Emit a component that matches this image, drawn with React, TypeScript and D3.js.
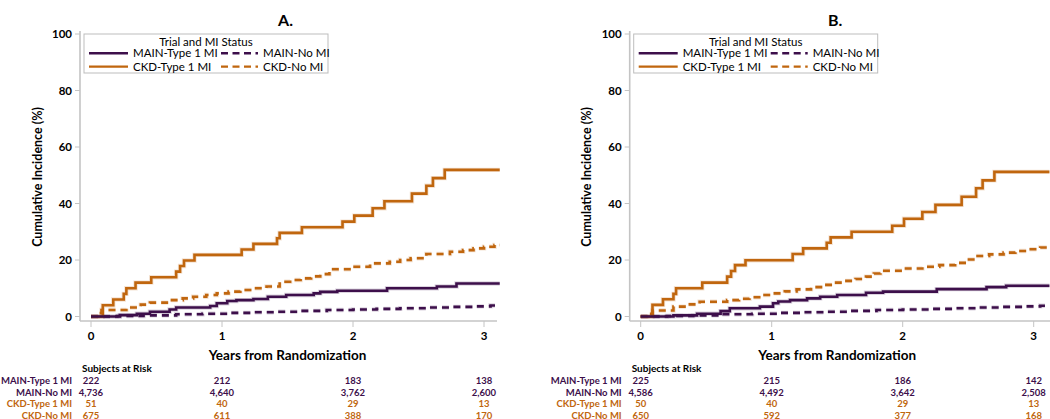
import React from "react";
import * as d3 from "d3";

// ---------- Data ----------
const seriesNames = ["MAIN-Type 1 MI", "MAIN-No MI", "CKD-Type 1 MI", "CKD-No MI"];
const riskTimes = [0, 1, 2, 3];
const yTicks = [0, 20, 40, 60, 80, 100];
const xTicks = [0, 1, 2, 3];

// Panel A curves: [years, cumulative incidence %]
const A_mainT1: [number, number][] = [
  [0, 0], [0.22, 0.5], [0.35, 1.0], [0.45, 1.7], [0.6, 2.5], [0.65, 3.2], [0.91, 3.7], [0.96, 4.7],
  [1.04, 5.5], [1.11, 5.8], [1.24, 6.2], [1.35, 7.0], [1.49, 7.6], [1.7, 8.2], [1.75, 8.7],
  [1.88, 9.1], [2.26, 10.0], [2.64, 10.6], [2.79, 11.7], [3.12, 11.7],
];
const A_mainNo: [number, number][] = [
  [0, 0], [0.2, 0.2], [0.4, 0.4], [0.65, 0.8], [0.85, 1.0], [1.04, 1.3], [1.22, 1.5], [1.42, 1.7],
  [1.6, 2.0], [1.8, 2.3], [2.0, 2.5], [2.18, 2.7], [2.36, 2.9], [2.56, 3.2], [2.75, 3.4],
  [2.92, 3.6], [3.05, 3.9], [3.12, 3.9],
];
const A_ckdT1: [number, number][] = [
  [0, 0], [0.09, 4.0], [0.17, 6.0], [0.25, 8.0], [0.27, 10.0], [0.34, 12.0], [0.46, 13.9],
  [0.65, 15.9], [0.68, 17.9], [0.71, 19.8], [0.79, 21.8], [1.15, 23.7], [1.24, 25.7],
  [1.42, 27.7], [1.44, 29.6], [1.61, 31.6], [1.92, 33.6], [2.01, 35.7], [2.15, 38.3],
  [2.24, 40.8], [2.45, 43.5], [2.56, 46.3], [2.61, 49.0], [2.7, 51.9], [3.12, 51.9],
];
const A_ckdNo: [number, number][] = [
  [0, 0], [0.05, 1.2], [0.08, 2.3], [0.27, 3.2], [0.38, 4.2], [0.45, 4.9], [0.6, 5.8],
  [0.7, 6.4], [0.78, 7.0], [0.88, 7.6], [0.96, 8.2], [1.05, 8.8], [1.14, 9.4], [1.24, 10.0],
  [1.34, 10.6], [1.44, 12.3], [1.52, 12.9], [1.6, 13.5], [1.68, 14.2], [1.75, 15.0],
  [1.82, 16.7], [2.0, 17.6], [2.13, 18.8], [2.28, 19.4], [2.36, 20.0], [2.44, 20.6],
  [2.56, 22.1], [2.74, 22.9], [2.84, 23.5], [2.92, 24.1], [3.0, 24.7], [3.08, 25.3], [3.12, 25.3],
];

// Panel B curves
const B_mainT1: [number, number][] = [
  [0, 0], [0.25, 0.4], [0.43, 1.0], [0.61, 1.9], [0.68, 2.9], [0.91, 3.5], [1.01, 4.7],
  [1.05, 5.3], [1.14, 5.8], [1.27, 6.4], [1.37, 7.0], [1.5, 7.6], [1.72, 8.4], [1.85, 8.8],
  [2.26, 9.7], [2.64, 10.4], [2.79, 10.9], [3.12, 10.9],
];
const B_mainNo: [number, number][] = [
  [0, 0], [0.2, 0.2], [0.4, 0.4], [0.6, 0.8], [0.85, 1.0], [1.04, 1.3], [1.22, 1.5], [1.42, 1.7],
  [1.6, 2.0], [1.8, 2.3], [2.0, 2.5], [2.2, 2.7], [2.4, 2.9], [2.56, 3.2], [2.75, 3.4],
  [2.92, 3.6], [3.05, 3.8], [3.12, 3.8],
];
const B_ckdT1: [number, number][] = [
  [0, 0], [0.09, 4.1], [0.17, 6.1], [0.25, 8.0], [0.27, 10.0], [0.47, 12.0], [0.66, 14.1],
  [0.69, 16.1], [0.72, 18.2], [0.8, 19.9], [1.16, 22.1], [1.24, 24.1], [1.42, 26.1],
  [1.45, 28.0], [1.61, 30.0], [1.92, 32.1], [2.01, 34.6], [2.15, 37.0], [2.25, 39.5],
  [2.45, 42.4], [2.56, 45.4], [2.61, 48.2], [2.7, 51.2], [3.12, 51.2],
];
const B_ckdNo: [number, number][] = [
  [0, 0], [0.05, 1.0], [0.09, 2.1], [0.25, 3.5], [0.35, 4.3], [0.45, 5.2], [0.66, 5.8],
  [0.75, 6.3], [0.83, 6.8], [0.92, 7.6], [0.99, 8.2], [1.1, 8.9], [1.19, 9.6], [1.3, 10.4],
  [1.39, 11.2], [1.48, 12.0], [1.55, 12.6], [1.64, 13.3], [1.72, 14.1], [1.78, 15.2], [1.83, 16.2],
  [2.0, 17.0], [2.15, 17.6], [2.28, 18.2], [2.4, 19.0], [2.49, 20.2], [2.56, 21.4],
  [2.66, 22.0], [2.77, 22.6], [2.86, 23.2], [2.95, 23.8], [3.05, 24.4], [3.12, 24.7],
];

// Subjects at risk
const A_risk = [
  ["222", "212", "183", "138"],
  ["4,736", "4,640", "3,762", "2,600"],
  ["51", "40", "29", "13"],
  ["675", "611", "388", "170"],
];
const B_risk = [
  ["225", "215", "186", "142"],
  ["4,586", "4,492", "3,642", "2,508"],
  ["50", "40", "29", "13"],
  ["650", "592", "377", "168"],
];

// ---------- Styles ----------
const PURPLE = "#3d0f4b";
const ORANGE = "#c0660e";
const seriesColor = [PURPLE, PURPLE, ORANGE, ORANGE];
const seriesDash = [null, "7,5", null, "7,5"];
const AXIS = "#c4c4c4";
const FONT = "Lato, 'Open Sans', sans-serif";

type PanelProps = {
  dx: number;
  title: string;
  curves: [number, number][][];
  risk: string[][];
};

function Panel({ dx, title, curves, risk }: PanelProps) {
  const x = d3.scaleLinear().domain([0, 3]).range([91 + dx, 484 + dx]);
  const y = d3.scaleLinear().domain([0, 100]).range([316.5, 34]);
  const axisLeft = 80 + dx;
  const axisRight = dx === 0 ? 497 : 1050;
  const axisY = 321;
  const line = d3
    .line<[number, number]>()
    .x((d) => x(d[0]))
    .y((d) => y(d[1]))
    .curve(d3.curveStepAfter);

  const legX = 84 + dx;
  const legW = 244;
  const order = [3, 1, 2, 0];
  const rowY = [384, 395.7, 407.3, 418.5];
  return (
    <g>
      <text x={x(1.5) - 2} y={26} textAnchor="middle" fontFamily={FONT} fontWeight={700} fontSize={16}>
        {title}
      </text>
      <line x1={axisLeft} x2={axisLeft} y1={31} y2={axisY} stroke={AXIS} strokeWidth={1.6} />
      <line x1={axisLeft} x2={axisRight} y1={axisY} y2={axisY} stroke={AXIS} strokeWidth={1.6} />
      {yTicks.map((t) => (
        <g key={"y" + t}>
          <line x1={axisLeft - 5} x2={axisLeft} y1={y(t)} y2={y(t)} stroke={AXIS} strokeWidth={1} />
          <text x={axisLeft - 8} y={y(t) + 4} textAnchor="end" fontFamily={FONT} fontWeight={700} fontSize={11.5}>
            {t}
          </text>
        </g>
      ))}
      {xTicks.map((t) => (
        <g key={"x" + t}>
          <line x1={x(t)} x2={x(t)} y1={axisY} y2={axisY + 6} stroke={AXIS} strokeWidth={1} />
          <text x={x(t)} y={axisY + 19} textAnchor="middle" fontFamily={FONT} fontWeight={700} fontSize={11.5}>
            {t}
          </text>
        </g>
      ))}
      <text
        transform={`translate(${37 + dx},177) rotate(-90)`}
        textAnchor="middle"
        dominantBaseline="central"
        fontFamily={FONT}
        fontWeight={700}
        fontSize={12.5}
      >
        Cumulative Incidence (%)
      </text>
      <text x={x(1.5)} y={360} textAnchor="middle" fontFamily={FONT} fontWeight={700} fontSize={13.5}>
        Years from Randomization
      </text>
      {order.map((i) => (
        <g key={"c" + i}>
          <path d={line(curves[i]) || ""} fill="none" stroke={seriesColor[i]} strokeOpacity={0.18} strokeWidth={4.4}
            strokeDasharray={seriesDash[i] || undefined} />
          <path
            d={line(curves[i]) || ""}
            fill="none"
            stroke={seriesColor[i]}
            strokeWidth={2.6}
            strokeDasharray={seriesDash[i] || undefined}
          />
        </g>
      ))}
      <rect x={legX} y={34} width={legW} height={39} fill="white" stroke="#bdbdbd" strokeWidth={1} />
      <text x={legX + 122} y={45.5} textAnchor="middle" fontFamily={FONT} fontSize={11.5}>
        Trial and MI Status
      </text>
      {[0, 1, 2, 3].map((i) => {
        const col = i % 2;
        const row = Math.floor(i / 2);
        const lx = legX + (col === 0 ? 5 : 137);
        const ly = 53.3 + row * 13.3;
        return (
          <g key={"l" + i}>
            <line x1={lx} x2={lx + (col === 0 ? 39 : 37)} y1={ly} y2={ly} stroke={seriesColor[i]} strokeWidth={2.4}
              strokeDasharray={seriesDash[i] ? "7,4.5" : undefined} />
            <text x={lx + (col === 0 ? 44 : 42)} y={ly + 4} fontFamily={FONT} fontSize={11.5}>
              {seriesNames[i]}
            </text>
          </g>
        );
      })}
      <text x={82 + dx} y={372} fontFamily={FONT} fontWeight={700} fontSize={10}>
        Subjects at Risk
      </text>
      {seriesNames.map((n, i) => (
        <g key={"r" + i}>
          <text x={72 + dx} y={rowY[i]} textAnchor="end" fontFamily={FONT} fontWeight={700} fontSize={9.5}
            fill={seriesColor[i]}>
            {n}
          </text>
          {riskTimes.map((t, j) => (
            <text key={j} x={x(t)} y={rowY[i]} textAnchor="middle" fontFamily={FONT} fontWeight={700}
              fontSize={9.5} fill={seriesColor[i]}>
              {risk[i][j]}
            </text>
          ))}
        </g>
      ))}
    </g>
  );
}

export default function App() {
  return (
    <svg width={1050} height={419} style={{ display: "block", position: "absolute", left: 0, top: 0 }}>
      <rect width={1050} height={419} fill="white" />
      <Panel dx={0} title="A." curves={[A_mainT1, A_mainNo, A_ckdT1, A_ckdNo]} risk={A_risk} />
      <Panel dx={549.7} title="B." curves={[B_mainT1, B_mainNo, B_ckdT1, B_ckdNo]} risk={B_risk} />
    </svg>
  );
}
